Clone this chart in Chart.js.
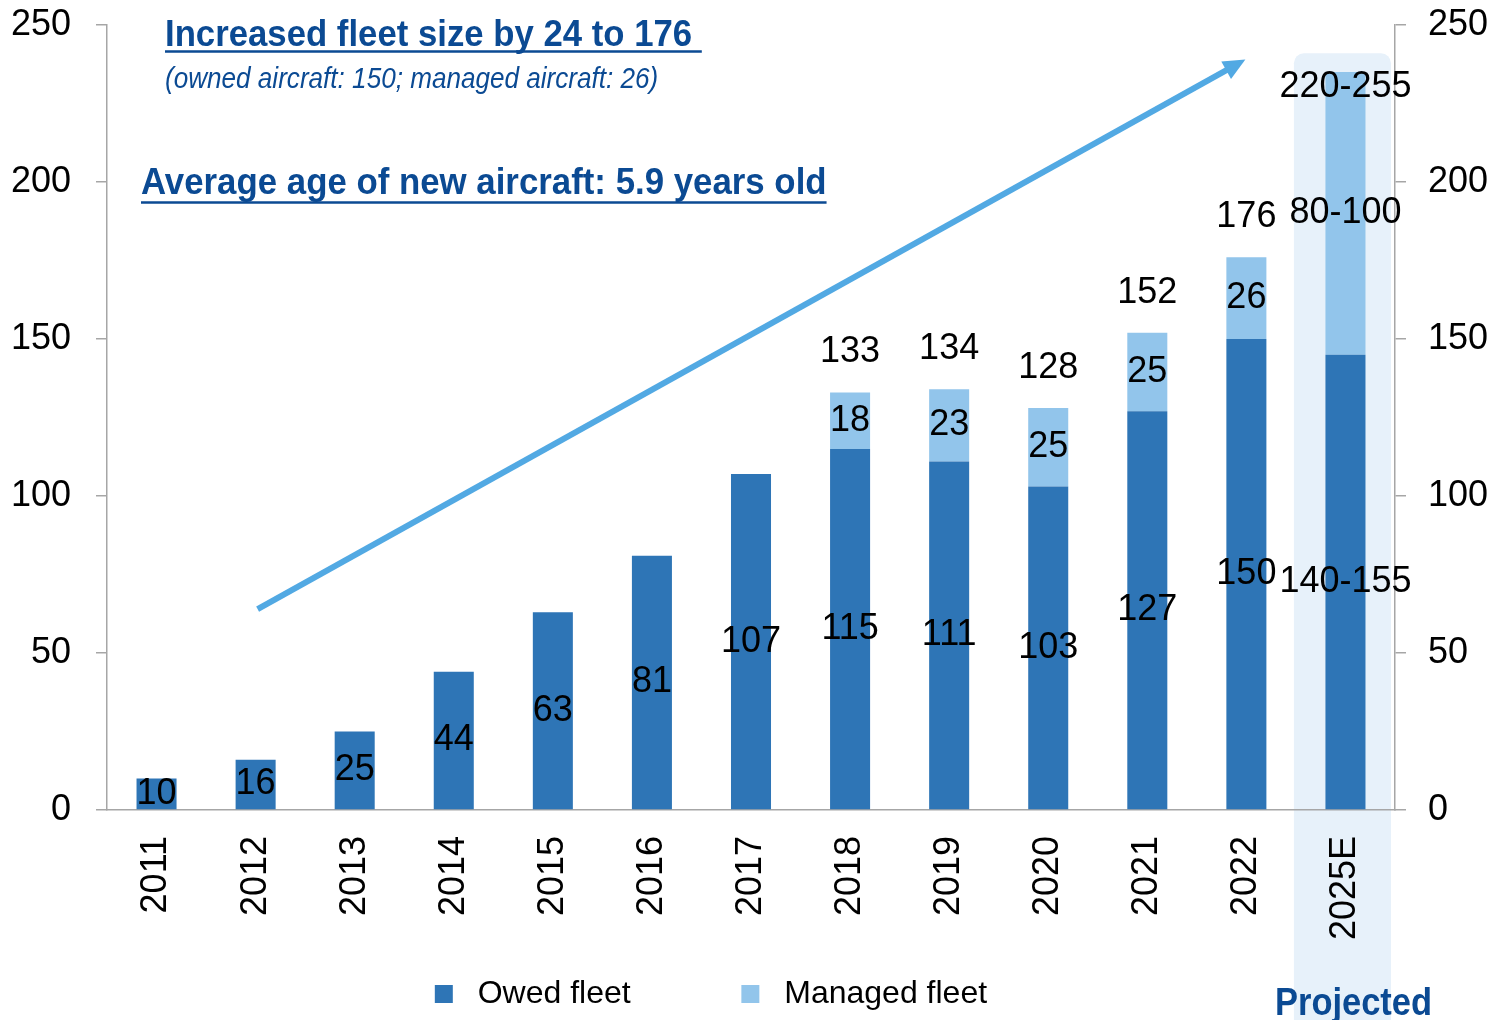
<!DOCTYPE html>
<html><head><meta charset="utf-8">
<script src="https://cdn.jsdelivr.net/npm/chart.js@4.4.1/dist/chart.umd.min.js"></script>
<style>html,body{margin:0;padding:0;background:#fff;}#wrap{width:1493px;height:1020px;position:relative;}</style>
</head><body><div id="wrap"><canvas id="c" width="1493" height="1020"></canvas></div>
<script>
// ---- data ----
const categories = ['2011','2012','2013','2014','2015','2016','2017','2018','2019','2020','2021','2022','2025E'];
const ownedFleet = [10,16,25,44,63,81,107,115,111,103,127,150,145];
const managedFleet = [null,null,null,null,null,null,null,18,23,25,25,26,90];
const ownedLabels = ['10','16','25','44','63','81','107','115','111','103','127','150','140-155'];
const managedLabels = ['','','','','','','','18','23','25','25','26','80-100'];
const totalLabels = ['','','','','','','','133','134','128','152','176','220-255'];
const yTicks = [0,50,100,150,200,250];
const seriesNames = ['Owed fleet','Managed fleet'];
const projectedIndex = 12;
const arrowFrom = {index:1, value:64};
const arrowTo = {index:11, value:239};

const SANS = '"Liberation Sans", Arial, sans-serif';
const OWNED_C = '#2E75B6', MANAGED_C = '#92C5EB', HL_C = '#E7F1FA', NAVY = '#0B4A93', AXIS_C = '#A6A6A6';

const highlightPlugin = {
  id:'highlight',
  beforeDraw(chart){
    const {ctx, scales:{x,y}} = chart;
    const cx = x.getPixelForValue(projectedIndex);
    const w = (x.getPixelForValue(1)-x.getPixelForValue(0))*0.98;
    const top = y.getPixelForValue(241);
    ctx.save(); ctx.fillStyle = HL_C;
    ctx.beginPath(); ctx.roundRect(cx - w/2 - 3, top, w, chart.height - top + 20, 10); ctx.fill();
    ctx.restore();
  }
};

const labelsPlugin = {
  id:'barLabels',
  afterDatasetsDraw(chart){
    const ctx = chart.ctx;
    ctx.save();
    ctx.font = '36px ' + SANS; ctx.fillStyle = '#000'; ctx.textAlign = 'center'; ctx.textBaseline = 'middle';
    chart.getDatasetMeta(0).data.forEach((bar,i)=>{
      const p = bar.getProps(['x','y','base'], true);
      ctx.fillText(ownedLabels[i], p.x, (p.y+p.base)/2);
    });
    chart.getDatasetMeta(1).data.forEach((bar,i)=>{
      if (!managedLabels[i]) return;
      const p = bar.getProps(['x','y','base'], true);
      ctx.fillText(managedLabels[i], p.x, (p.y+p.base)/2);
      const ty = i === projectedIndex ? p.y + 15 : p.y - 40;
      ctx.fillText(totalLabels[i], p.x, ty);
    });
    ctx.restore();
  }
};

function narrowText(ctx, t, x, y, font, sx, underlineY){
  ctx.save();
  ctx.font = font; ctx.translate(x, y); ctx.scale(sx, 1);
  ctx.fillText(t, 0, 0);
  const w = ctx.measureText(t).width * sx;
  ctx.restore();
  if (underlineY !== undefined){
    ctx.save(); ctx.lineWidth = 2.5; ctx.beginPath(); ctx.moveTo(x, underlineY); ctx.lineTo(x + w, underlineY); ctx.stroke(); ctx.restore();
  }
}

const annotPlugin = {
  id:'annot',
  afterDraw(chart){
    const {ctx, scales:{x,y}} = chart;
    ctx.save();
    // arrow
    const x1 = x.getPixelForValue(arrowFrom.index)+2, y1 = y.getPixelForValue(arrowFrom.value);
    const x2 = x.getPixelForValue(arrowTo.index)-1, y2 = y.getPixelForValue(arrowTo.value);
    const ang = Math.atan2(y2-y1, x2-x1);
    const hl = 22, hw = 10;
    const bx = x2 - hl*Math.cos(ang), by = y2 - hl*Math.sin(ang);
    ctx.strokeStyle = '#52A9E3'; ctx.fillStyle = '#52A9E3'; ctx.lineWidth = 6;
    ctx.beginPath(); ctx.moveTo(x1,y1); ctx.lineTo(bx+4*Math.cos(ang),by+4*Math.sin(ang)); ctx.stroke();
    ctx.beginPath(); ctx.moveTo(x2,y2);
    ctx.lineTo(bx + hw*Math.sin(ang), by - hw*Math.cos(ang));
    ctx.lineTo(bx - hw*Math.sin(ang), by + hw*Math.cos(ang));
    ctx.closePath(); ctx.fill();
    // titles
    ctx.fillStyle = NAVY; ctx.strokeStyle = NAVY; ctx.textAlign = 'left'; ctx.textBaseline = 'alphabetic';
    narrowText(ctx, 'Increased fleet size by 24 to 176 ', 165, 46, 'bold 36px ' + SANS, 0.965, 51.5);
    narrowText(ctx, '(owned aircraft: 150; managed aircraft: 26)', 165, 88, 'italic 29px ' + SANS, 0.9);
    narrowText(ctx, 'Average age of new aircraft: 5.9 years old', 141, 194, 'bold 36px ' + SANS, 0.967, 202.5);
    narrowText(ctx, 'Projected', 1275, 1015, 'bold 38px ' + SANS, 0.907);
    ctx.restore();
  }
};

const tickFont = {family: SANS, size: 36};
const spaces = n => ' '.repeat(n);
const noPad = s => { s.paddingTop = 0; s.paddingBottom = 0; };

new Chart(document.getElementById('c'), {
  type:'bar',
  data:{
    labels: categories,
    datasets:[
      {label: seriesNames[0], data: ownedFleet, backgroundColor: OWNED_C, stack:'s'},
      {label: seriesNames[1], data: managedFleet, backgroundColor: MANAGED_C, stack:'s'}
    ]
  },
  options:{
    responsive:false, animation:false, devicePixelRatio:1,
    categoryPercentage:1, barPercentage:0.404,
    layout:{padding:{top:25,left:0,right:0,bottom:0}},
    plugins:{
      tooltip:{enabled:false},
      legend:{
        position:'bottom',
        labels:{
          font:{family: SANS, size:32}, color:'#000', boxWidth:18, boxHeight:18, padding:4,
          generateLabels(chart){
            const pads = [[1,12],[1,8]];
            return chart.data.datasets.map((ds,i)=>({
              text: spaces(pads[i][0]) + ds.label + spaces(pads[i][1]),
              fillStyle: ds.backgroundColor, strokeStyle: ds.backgroundColor, lineWidth:0,
              hidden:false, datasetIndex:i
            }));
          }
        }
      }
    },
    scales:{
      x:{
        stacked:true,
        grid:{display:false},
        border:{color:AXIS_C, width:1.5},
        ticks:{font:tickFont, color:'#000', minRotation:90, maxRotation:90, autoSkip:false, padding:18},
        afterFit(s){ s.height = 1020 - 810 - (s.chart.legend ? s.chart.legend.height : 54); }
      },
      y:{
        stacked:true, position:'left', min:0, max:250,
        afterBuildTicks(s){ s.ticks = yTicks.map(v=>({value:v})); },
        ticks:{font:tickFont, color:'#000', padding:25},
        grid:{drawOnChartArea:false, drawTicks:true, tickLength:11, color:AXIS_C, lineWidth:1.5},
        border:{color:AXIS_C, width:1.5},
        afterFit(s){ s.width = 107; noPad(s); }
      },
      y2:{
        position:'right', min:0, max:250,
        afterBuildTicks(s){ s.ticks = yTicks.map(v=>({value:v})); },
        ticks:{font:tickFont, color:'#000', padding:22},
        grid:{drawOnChartArea:false, drawTicks:true, tickLength:11, color:AXIS_C, lineWidth:1.5},
        border:{color:AXIS_C, width:1.5},
        afterFit(s){ s.width = 98; noPad(s); }
      }
    }
  },
  plugins:[highlightPlugin, labelsPlugin, annotPlugin]
});
</script></body></html>
